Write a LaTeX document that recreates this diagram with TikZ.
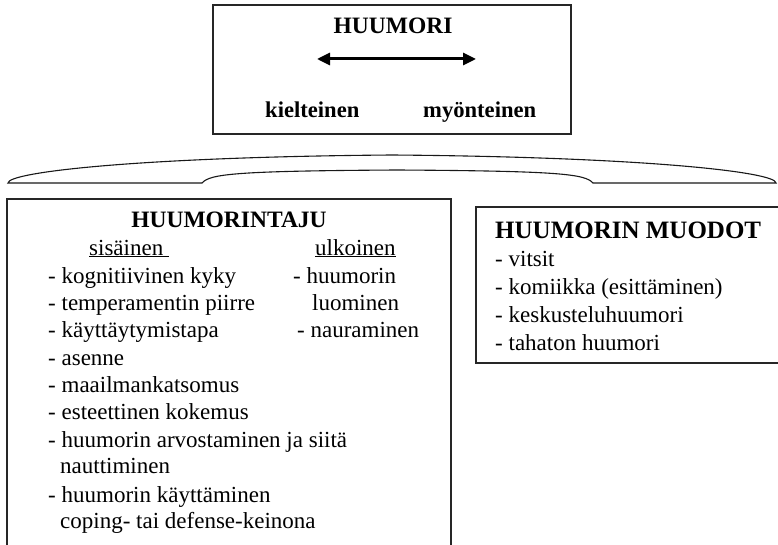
\documentclass[tikz,border=0pt]{standalone}
\usepackage{fontspec}
\setmainfont{Liberation Serif}
\usetikzlibrary{arrows.meta}
\begin{document}
\begin{tikzpicture}[x=1pt,y=-1pt,
  frame/.style={draw=black!85,line width=1.3pt},
  body/.style={anchor=base west,inner sep=0pt,font=\fontsize{23}{27}\selectfont},
  head/.style={inner sep=0pt,font=\fontsize{23.5}{28}\selectfont\bfseries},
  toptext/.style={anchor=base west,inner sep=0pt,font=\fontsize{22.6}{27}\selectfont\bfseries},
  bigtip/.tip={Triangle[length=13pt,width=12pt]}]
\useasboundingbox[fill=white] (0,0) rectangle (778,545);
% top box
\draw[frame] (213,5) rectangle (571,134);
\node[head,anchor=base] (huumori) at (393,34) {HUUMORI};
\coordinate (arrL) at (317,59);
\coordinate (arrR) at (476,59);
\draw[line width=3pt,bigtip-bigtip] (arrL) -- (arrR);
\node[toptext] (kiel) at (265,118) {kielteinen};
\node[toptext] (myon) at (423,118) {myönteinen};
% brace
\draw[line width=1.1pt,black!90] (8,183) .. controls (8,172) and (140,157) .. (392,155)
  .. controls (644,157) and (776,172) .. (776,183) -- (593,183)
  .. controls (585,174) and (560,171) .. (397,170)
  .. controls (234,171) and (210,174) .. (202,183) -- cycle;
% left box
\draw[frame] (7,560) -- (7,199) -- (451,199) -- (451,560);
\node[head,anchor=base] (taju) at (229,227) {HUUMORINTAJU};
\node[body] (sis) at (89,255) {\underline{sisäinen\ }};
\node[body] (ulk) at (315,255) {\underline{ulkoinen}};
\node[body] (l1) at (48,283) {- kognitiivinen kyky};
\node[body] (l2) at (48,310) {- temperamentin piirre};
\node[body] (l3) at (48,337) {- käyttäytymistapa};
\node[body] (l4) at (48,365) {- asenne};
\node[body] (l5) at (48,392) {- maailmankatsomus};
\node[body] (l6) at (48,419) {- esteettinen kokemus};
\node[body] (l7) at (48,447) {- huumorin arvostaminen ja siitä};
\node[body] (l8) at (60,473) {nauttiminen};
\node[body] (l9) at (48,502) {- huumorin käyttäminen};
\node[body] (l10) at (60,528) {coping- tai defense-keinona};
\node[body] (r1) at (293,283) {- huumorin};
\node[body] (r2) at (312,310) {luominen};
\node[body] (r3) at (297,337) {- nauraminen};
% right box
\draw[frame] (476,207) rectangle (781,363);
\node[head,anchor=base west,font=\fontsize{25}{28}\selectfont\bfseries] (muodot) at (495,239) {HUUMORIN MUODOT};
\node[body] (m1) at (495,266) {- vitsit};
\node[body] (m2) at (495,294) {- komiikka (esittäminen)};
\node[body] (m3) at (495,322) {- keskusteluhuumori};
\node[body] (m4) at (495,350) {- tahaton huumori};
\end{tikzpicture}
\end{document}
